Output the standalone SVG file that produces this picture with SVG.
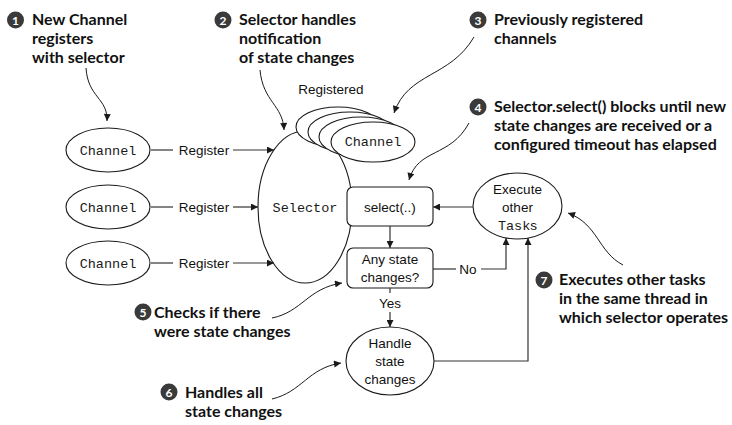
<svg xmlns="http://www.w3.org/2000/svg" width="732" height="425" viewBox="0 0 732 425">
<style>
.shape{fill:#fff;stroke:#1a1a1a;stroke-width:1.1}
.line{fill:none;stroke:#333;stroke-width:1.2}
.call{fill:none;stroke:#1a1a1a;stroke-width:1}
.mono{font-family:"Liberation Mono","DejaVu Sans Mono",monospace;font-size:13.5px;fill:#1a1a1a}
.sans{font-family:"Liberation Sans",Arial,sans-serif;font-size:13.5px;fill:#111}
.note{font-family:Lato,"Open Sans",sans-serif;font-weight:bold;font-size:16px;fill:#111}
.num{fill:#3a3a3a}
.numt{font-family:Lato,"Liberation Sans",sans-serif;font-weight:bold;font-size:12px;fill:#fff}
</style>
<defs>
<marker id="arr" viewBox="0 0 10 10" refX="10" refY="5" markerWidth="9" markerHeight="7" markerUnits="userSpaceOnUse" orient="auto">
<path d="M0,0 L10,5 L0,10 z" fill="#1a1a1a"/>
</marker>
</defs>

<g id="selector">
<ellipse class="shape" cx="305" cy="207" rx="47" ry="76"/>
<text class="mono" x="305" y="212" text-anchor="middle">Selector</text>
</g>

<g id="registered">
<text class="sans" x="331" y="94" text-anchor="middle">Registered</text>
<ellipse class="shape" cx="338" cy="127" rx="42" ry="20"/>
<ellipse class="shape" cx="350" cy="132" rx="42" ry="20"/>
<ellipse class="shape" cx="361" cy="137" rx="42" ry="20"/>
<ellipse class="shape" cx="373" cy="142" rx="42" ry="20"/>
<text class="mono" x="373" y="146" text-anchor="middle">Channel</text>
</g>

<g id="channel1">
<ellipse class="shape" cx="108" cy="150" rx="42" ry="22"/>
<text class="mono" x="108" y="155" text-anchor="middle">Channel</text>
</g>
<g id="channel2">
<ellipse class="shape" cx="108" cy="207" rx="42" ry="22"/>
<text class="mono" x="108" y="212" text-anchor="middle">Channel</text>
</g>
<g id="channel3">
<ellipse class="shape" cx="108" cy="263" rx="42" ry="22"/>
<text class="mono" x="108" y="268" text-anchor="middle">Channel</text>
</g>

<g id="select">
<rect class="shape" x="347" y="187" width="86" height="39" rx="6"/>
<text class="sans" x="390" y="212" text-anchor="middle">select(..)</text>
</g>

<g id="anychanges">
<rect class="shape" x="347" y="248" width="86" height="40" rx="6"/>
<text class="sans" x="390" y="264" text-anchor="middle">Any state</text>
<text class="sans" x="390" y="282" text-anchor="middle">changes?</text>
</g>

<g id="handle">
<ellipse class="shape" cx="390" cy="361" rx="44" ry="34"/>
<text class="sans" x="390" y="348" text-anchor="middle">Handle</text>
<text class="sans" x="390" y="366" text-anchor="middle">state</text>
<text class="sans" x="390" y="384" text-anchor="middle">changes</text>
</g>

<g id="execute">
<ellipse class="shape" cx="517.5" cy="206" rx="44.5" ry="33"/>
<text class="sans" x="517.5" y="194" text-anchor="middle">Execute</text>
<text class="sans" x="517.5" y="212" text-anchor="middle">other</text>
<text x="517.5" y="230" text-anchor="middle"><tspan class="mono">Task</tspan><tspan class="sans">s</tspan></text>
</g>

<g id="connectors">
<line class="line" x1="151" y1="150" x2="173" y2="150"/>
<text class="sans" x="204" y="155" text-anchor="middle">Register</text>
<line class="line" x1="233" y1="150" x2="274" y2="150" marker-end="url(#arr)"/>
<line class="line" x1="151" y1="207" x2="173" y2="207"/>
<text class="sans" x="204" y="212" text-anchor="middle">Register</text>
<line class="line" x1="233" y1="207" x2="258" y2="207" marker-end="url(#arr)"/>
<line class="line" x1="151" y1="263" x2="173" y2="263"/>
<text class="sans" x="204" y="268" text-anchor="middle">Register</text>
<line class="line" x1="233" y1="263" x2="274" y2="263" marker-end="url(#arr)"/>

<line class="line" x1="473" y1="207" x2="433" y2="207" marker-end="url(#arr)"/>
<line class="line" x1="390" y1="226" x2="390" y2="248" marker-end="url(#arr)"/>
<line class="line" x1="390" y1="288" x2="390" y2="293"/>
<text class="sans" x="390" y="308" text-anchor="middle">Yes</text>
<line class="line" x1="390" y1="312" x2="390" y2="327" marker-end="url(#arr)"/>
<line class="line" x1="433" y1="269" x2="456" y2="269"/>
<text class="sans" x="468" y="274" text-anchor="middle">No</text>
<polyline class="line" points="481,269 506,269 506,238" marker-end="url(#arr)"/>
<polyline class="line" points="434,361 528,361 528,238" marker-end="url(#arr)"/>

<path class="call" d="M86,68 C88,98 108,98 107,121" marker-end="url(#arr)"/>
<path class="call" d="M260,70 C263,102 283,105 284,130" marker-end="url(#arr)"/>
<path class="call" d="M474,37 C450,78 408,72 394,113" marker-end="url(#arr)"/>
<path class="call" d="M469,123 C450,158 418,148 409,180" marker-end="url(#arr)"/>
<path class="call" d="M272,318 C302,312 308,288 342,283" marker-end="url(#arr)"/>
<path class="call" d="M272,399 C302,392 308,368 341,363" marker-end="url(#arr)"/>
<path class="call" d="M623,265 C598,252 598,224 568,213" marker-end="url(#arr)"/>
</g>

<g id="note1">
<circle class="num" cx="15.5" cy="20" r="8.5"/>
<text class="numt" x="15.5" y="24.5" text-anchor="middle">1</text>
<text class="note" x="32" y="24.5">New Channel</text>
<text class="note" x="32" y="43.5">registers</text>
<text class="note" x="32" y="62.5">with selector</text>
</g>
<g id="note2">
<circle class="num" cx="223" cy="20" r="8.5"/>
<text class="numt" x="223" y="24.5" text-anchor="middle">2</text>
<text class="note" x="239" y="24.5">Selector handles</text>
<text class="note" x="239" y="43.5">notification</text>
<text class="note" x="239" y="62.5">of state changes</text>
</g>
<g id="note3">
<circle class="num" cx="478" cy="20" r="8.5"/>
<text class="numt" x="478" y="24.5" text-anchor="middle">3</text>
<text class="note" x="494" y="24.5">Previously registered</text>
<text class="note" x="494" y="43.5">channels</text>
</g>
<g id="note4">
<circle class="num" cx="478" cy="107" r="8.5"/>
<text class="numt" x="478" y="111.5" text-anchor="middle">4</text>
<text class="note" x="494" y="112">Selector.select() blocks until new</text>
<text class="note" x="494" y="131">state changes are received or a</text>
<text class="note" x="494" y="150">configured timeout has elapsed</text>
</g>
<g id="note5">
<circle class="num" cx="143" cy="312" r="8.5"/>
<text class="numt" x="143" y="316.5" text-anchor="middle">5</text>
<text class="note" x="154" y="318">Checks if there</text>
<text class="note" x="154" y="337">were state changes</text>
</g>
<g id="note6">
<circle class="num" cx="169" cy="392" r="8.5"/>
<text class="numt" x="169" y="396.5" text-anchor="middle">6</text>
<text class="note" x="185" y="398">Handles all</text>
<text class="note" x="185" y="417">state changes</text>
</g>
<g id="note7">
<circle class="num" cx="544" cy="280" r="8.5"/>
<text class="numt" x="544" y="284.5" text-anchor="middle">7</text>
<text class="note" x="559" y="285">Executes other tasks</text>
<text class="note" x="559" y="304">in the same thread in</text>
<text class="note" x="559" y="323">which selector operates</text>
</g>
</svg>
